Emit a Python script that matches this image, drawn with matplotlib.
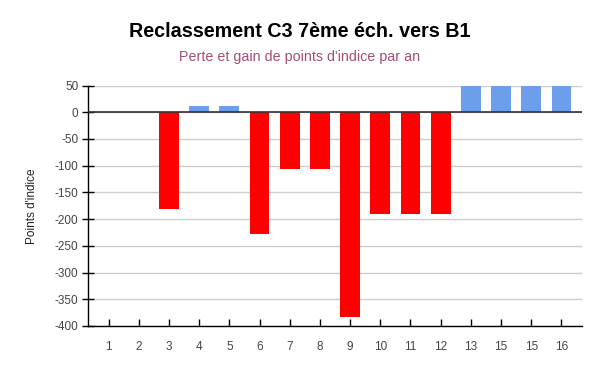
import numpy as np
import matplotlib.pyplot as plt

plt.rcParams['font.family'] = ['Liberation Sans', 'DejaVu Sans']
plt.rcParams['axes.unicode_minus'] = False

labels = ["1", "2", "3", "4", "5", "6", "7", "8", "9", "10", "11", "12", "13", "15", "15", "16"]
values = [0, 0, -181, 12, 12, -227, -107, -107, -384, -191, -191, -191, 49, 49, 49, 49]

x = np.arange(len(labels))
colors = ["#ff0000" if v < 0 else "#6d9eeb" for v in values]

fig = plt.figure(figsize=(6, 3.71), dpi=100)
ax = fig.add_axes([0.1467, 0.1213, 0.8233, 0.6482])

ax.bar(x, values, width=0.66, color=colors, zorder=3)

ax.set_ylim(-400, 50)
ax.set_yticks(np.arange(-400, 51, 50))
ax.set_xlim(-0.68, len(labels) - 1 + 0.68)
ax.set_xticks(x)
ax.set_xticklabels(labels)

ax.grid(axis='y', color="#cccccc", linewidth=1, zorder=0)
ax.axhline(0, color="#333333", linewidth=1.2, zorder=4)

for s in ['top', 'right']:
    ax.spines[s].set_visible(False)
for s in ['left', 'bottom']:
    ax.spines[s].set_color('black')
    ax.spines[s].set_linewidth(1)

ax.tick_params(axis='y', direction='inout', length=8, width=1, labelsize=8.5, labelcolor='#444444', pad=3)
ax.tick_params(axis='x', direction='in', length=5, width=1, labelsize=8.5, labelcolor='#444444', pad=11)

ax.set_ylabel("Points d'indice", fontsize=8.5, color='#222222', labelpad=12)

fig.text(0.5, 0.915, "Reclassement C3 7ème éch. vers B1", ha='center', va='center',
         fontsize=14.2, fontweight='bold', color='black')
fig.text(0.5, 0.847, "Perte et gain de points d'indice par an", ha='center', va='center',
         fontsize=10.3, color='#a64d79')

fig.savefig("out.png", dpi=100)
